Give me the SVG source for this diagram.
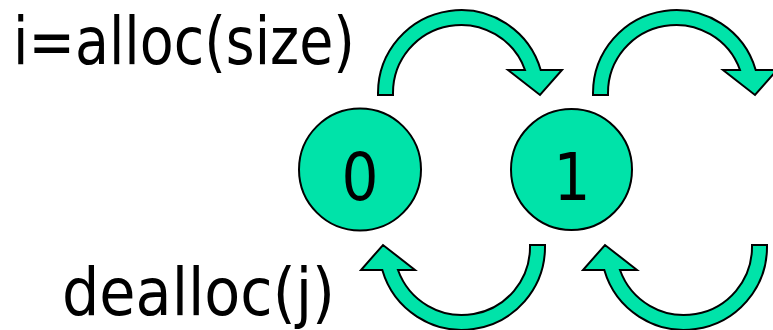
<svg xmlns="http://www.w3.org/2000/svg" width="773" height="330" viewBox="0 0 773 330">
<defs>
<style>
.node{fill:#00E3A9;stroke:#000;stroke-width:2}
.arr{fill:#00E3A9;stroke:#000;stroke-width:2;stroke-linejoin:miter}
.lbl{font-family:"DejaVu Sans",Verdana,sans-serif;font-size:65px;fill:#000}
.num{font-family:"DejaVu Sans",Verdana,sans-serif;font-size:66px;fill:#000;text-anchor:middle}
</style>
<path id="curv" d="M 378 95 L 378 93 A 83 83 0 0 1 540.7 70 L 562 70 L 540 95 L 508 70 L 525 70 A 68 68 0 0 0 393 93 L 393 95 Z"/>
</defs>
<g id="connectors">
<use href="#curv" class="arr"/>
<use href="#curv" class="arr" transform="translate(215,0)"/>
<use href="#curv" class="arr" transform="rotate(180 461.5 170)"/>
<use href="#curv" class="arr" transform="translate(222,0) rotate(180 461.5 170)"/>
</g>
<g id="node0">
<circle class="node" cx="360" cy="169.5" r="61"/>
<text class="num" x="360" y="200" textLength="37" lengthAdjust="spacingAndGlyphs">0</text>
</g>
<g id="node1">
<circle class="node" cx="571.5" cy="169.5" r="60.5"/>
<text class="num" x="572" y="200" textLength="37" lengthAdjust="spacingAndGlyphs">1</text>
</g>
<g id="label-alloc">
<text class="lbl" x="13" y="64" textLength="342" lengthAdjust="spacingAndGlyphs">i=alloc(size)</text>
</g>
<g id="label-dealloc">
<text class="lbl" x="62" y="315" textLength="273" lengthAdjust="spacingAndGlyphs">dealloc(j)</text>
</g>
</svg>
